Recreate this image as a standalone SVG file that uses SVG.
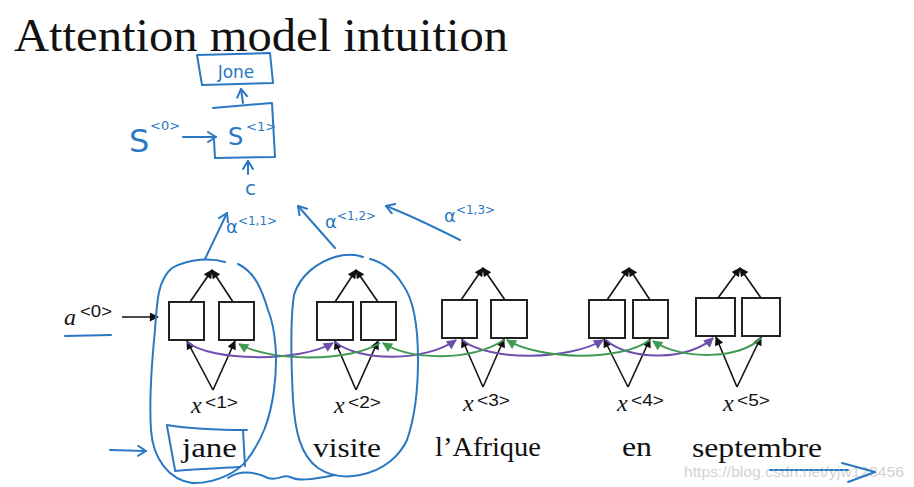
<svg xmlns="http://www.w3.org/2000/svg" width="914" height="487" viewBox="0 0 914 487">
<style>
.title{font-family:"Liberation Serif","Times New Roman",serif;font-size:47px;fill:#111}
.word{font-family:"Liberation Serif","Times New Roman",serif;font-size:27px;fill:#111}
.xl{font-family:"Liberation Serif","Times New Roman",serif;font-style:italic;font-size:24px;fill:#111}
.sup{font-family:"Liberation Sans",Arial,sans-serif;font-style:normal;font-size:17px}
.cell{fill:#fff;stroke:#222;stroke-width:2}
.blk{stroke:#111;stroke-width:1.6;fill:none}
.pur{stroke:#6f4fae;stroke-width:2;fill:none}
.grn{stroke:#3f9a52;stroke-width:2;fill:none}
.ink{stroke:#2b78c2;stroke-width:2;fill:none;stroke-linecap:round;stroke-linejoin:round}
.hw{font-family:"DejaVu Sans","Liberation Sans",sans-serif;fill:#2b78c2}
.wm{font-family:"Liberation Sans",Arial,sans-serif;font-size:15px;fill:#c8c8c8;opacity:0.8}
</style>
<defs>
<marker id="ah" viewBox="0 0 10 10" refX="9" refY="5" markerWidth="10" markerHeight="9" markerUnits="userSpaceOnUse" orient="auto"><path d="M0,0 L10,5 L0,10 z" fill="#111"/></marker>
<marker id="ap" viewBox="0 0 10 10" refX="9" refY="5" markerWidth="11" markerHeight="10" markerUnits="userSpaceOnUse" orient="auto"><path d="M0,0 L10,5 L0,10 z" fill="#6f4fae"/></marker>
<marker id="ag" viewBox="0 0 10 10" refX="9" refY="5" markerWidth="11" markerHeight="10" markerUnits="userSpaceOnUse" orient="auto"><path d="M0,0 L10,5 L0,10 z" fill="#3f9a52"/></marker>
<marker id="bh" viewBox="0 0 10 12" refX="9" refY="6" markerWidth="10" markerHeight="12" markerUnits="userSpaceOnUse" orient="auto"><path d="M1,1 L9,6 L1,11" fill="none" stroke="#2b78c2" stroke-width="2" stroke-linecap="round" stroke-linejoin="round"/></marker>
</defs>
<rect width="914" height="487" fill="#fff"/>

<text class="title" x="14" y="51" textLength="494" lengthAdjust="spacingAndGlyphs">Attention model intuition</text>

<g id="watermark"><text class="wm" x="684" y="477" textLength="220" lengthAdjust="spacingAndGlyphs">https://blog.csdn.net/yjw123456</text></g>

<g id="pair1"><rect class="cell" x="169" y="302" width="35" height="38"/><rect class="cell" x="219" y="302" width="35" height="38"/></g>
<g id="pair2"><rect class="cell" x="317" y="302" width="36" height="38"/><rect class="cell" x="361" y="302" width="35" height="38"/></g>
<g id="pair3"><rect class="cell" x="442" y="300" width="35" height="38"/><rect class="cell" x="491" y="300" width="36" height="38"/></g>
<g id="pair4"><rect class="cell" x="589" y="300" width="36" height="38"/><rect class="cell" x="633" y="300" width="35" height="38"/></g>
<g id="pair5"><rect class="cell" x="696" y="298" width="39" height="38"/><rect class="cell" x="742" y="298" width="38" height="38"/></g>

<g id="labels">
<text class="xl" x="191" y="413">x<tspan class="sup" x="205" dy="-5" textLength="33" lengthAdjust="spacingAndGlyphs">&lt;1&gt;</tspan></text>
<text class="xl" x="334" y="413">x<tspan class="sup" x="348" dy="-5" textLength="33" lengthAdjust="spacingAndGlyphs">&lt;2&gt;</tspan></text>
<text class="xl" x="463" y="411">x<tspan class="sup" x="477" dy="-5" textLength="33" lengthAdjust="spacingAndGlyphs">&lt;3&gt;</tspan></text>
<text class="xl" x="617" y="411">x<tspan class="sup" x="631" dy="-5" textLength="33" lengthAdjust="spacingAndGlyphs">&lt;4&gt;</tspan></text>
<text class="xl" x="723" y="411">x<tspan class="sup" x="737" dy="-5" textLength="33" lengthAdjust="spacingAndGlyphs">&lt;5&gt;</tspan></text>
<text class="xl" x="64" y="325">a<tspan class="sup" x="80" dy="-8" textLength="32" lengthAdjust="spacingAndGlyphs">&lt;0&gt;</tspan></text>
<text class="word" x="182" y="457" textLength="55" lengthAdjust="spacingAndGlyphs">jane</text>
<text class="word" x="313" y="457" textLength="68" lengthAdjust="spacingAndGlyphs">visite</text>
<text class="word" x="435" y="456" textLength="106" lengthAdjust="spacingAndGlyphs">l’Afrique</text>
<text class="word" x="622" y="456" textLength="30" lengthAdjust="spacingAndGlyphs">en</text>
<text class="word" x="692" y="457" textLength="130" lengthAdjust="spacingAndGlyphs">septembre</text>
</g>

<g id="connectors">
<line class="blk" x1="122" y1="317" x2="158" y2="317" marker-end="url(#ah)"/>
<g id="up">
<line class="blk" x1="190" y1="302" x2="212" y2="270" marker-end="url(#ah)"/><line class="blk" x1="233" y1="302" x2="212" y2="270" marker-end="url(#ah)"/>
<line class="blk" x1="335" y1="302" x2="356" y2="270" marker-end="url(#ah)"/><line class="blk" x1="378" y1="302" x2="356" y2="270" marker-end="url(#ah)"/>
<line class="blk" x1="461" y1="300" x2="483" y2="268" marker-end="url(#ah)"/><line class="blk" x1="505" y1="300" x2="483" y2="268" marker-end="url(#ah)"/>
<line class="blk" x1="607" y1="300" x2="629" y2="268" marker-end="url(#ah)"/><line class="blk" x1="650" y1="300" x2="629" y2="268" marker-end="url(#ah)"/>
<line class="blk" x1="718" y1="298" x2="740" y2="268" marker-end="url(#ah)"/><line class="blk" x1="761" y1="298" x2="740" y2="268" marker-end="url(#ah)"/>
</g>
<g id="inputs">
<line class="blk" x1="213" y1="390" x2="187" y2="341" marker-end="url(#ah)"/><line class="blk" x1="213" y1="390" x2="235" y2="341" marker-end="url(#ah)"/>
<line class="blk" x1="356" y1="390" x2="335" y2="341" marker-end="url(#ah)"/><line class="blk" x1="356" y1="390" x2="378" y2="341" marker-end="url(#ah)"/>
<line class="blk" x1="483" y1="387" x2="462" y2="339" marker-end="url(#ah)"/><line class="blk" x1="483" y1="387" x2="504" y2="339" marker-end="url(#ah)"/>
<line class="blk" x1="628" y1="387" x2="604" y2="339" marker-end="url(#ah)"/><line class="blk" x1="628" y1="387" x2="650" y2="339" marker-end="url(#ah)"/>
<line class="blk" x1="737" y1="387" x2="716" y2="337" marker-end="url(#ah)"/><line class="blk" x1="737" y1="387" x2="761" y2="337" marker-end="url(#ah)"/>
</g>
<g id="forward">
<path class="pur" d="M187,342 C212,362 300,362 333,343" marker-end="url(#ap)"/>
<path class="pur" d="M335,342 C360,362 425,362 456,340" marker-end="url(#ap)"/>
<path class="pur" d="M462,340 C490,362 570,360 603,340" marker-end="url(#ap)"/>
<path class="pur" d="M606,340 C630,362 690,360 713,338" marker-end="url(#ap)"/>
</g>
<g id="backward">
<path class="grn" d="M380,343 C350,362 270,362 239,344" marker-end="url(#ag)"/>
<path class="grn" d="M504,340 C470,362 410,360 383,343" marker-end="url(#ag)"/>
<path class="grn" d="M650,340 C620,362 540,360 507,340" marker-end="url(#ag)"/>
<path class="grn" d="M761,338 C740,360 680,360 653,341" marker-end="url(#ag)"/>
</g>
</g>

<g id="annotations">
<path class="ink" d="M65,336 L111,335"/>
<g id="jane-out"><path class="ink" d="M197,55 L270,53 L273,83 L202,85 Z"/><text class="hw" x="236" y="78" font-size="17" text-anchor="middle">Jone</text></g>
<g id="s1"><path class="ink" d="M213,108 L272,103 L275,157 L215,158 L214,140"/><text class="hw" x="228" y="145" font-size="24">S</text><text class="hw" x="246" y="131" font-size="13">&lt;1&gt;</text></g>
<g id="s0"><text class="hw" x="129" y="152" font-size="32">S</text><text class="hw" x="150" y="130" font-size="13">&lt;0&gt;</text></g>
<text class="hw" x="245" y="195" font-size="20">c</text>
<path class="ink" d="M183,137 L216,137" marker-end="url(#bh)"/>
<path class="ink" d="M248,174 L248,161" marker-end="url(#bh)"/>
<path class="ink" d="M243,103 L241,89" marker-end="url(#bh)"/>
<path class="ink" d="M205,259 L227,213" marker-end="url(#bh)"/>
<path class="ink" d="M335,248 L298,206" marker-end="url(#bh)"/>
<path class="ink" d="M460,240 C430,225 405,213 386,206" marker-end="url(#bh)"/>
<text class="hw" x="226" y="233" font-size="18">α<tspan font-size="12" dy="-8">&lt;1,1&gt;</tspan></text>
<text class="hw" x="325" y="228" font-size="18">α<tspan font-size="12" dy="-8">&lt;1,2&gt;</tspan></text>
<text class="hw" x="444" y="222" font-size="18">α<tspan font-size="12" dy="-8">&lt;1,3&gt;</tspan></text>
<g id="loop-jane"><path class="ink" d="M225,262 C212,258 190,258 172,268 C158,280 157,300 155,330 C152,360 149,400 151,430 C153,460 170,480 192,483 C215,484 238,472 247,460 C262,440 270,420 274,390 C278,360 276,330 268,310 C262,290 255,272 238,264"/></g>
<path class="ink" d="M228,478 C240,470 255,472 268,478 C278,481 283,474 290,477 C298,481 310,480 335,475"/>
<g id="loop-visite"><path class="ink" d="M363,257 C355,254 345,254 335,257 C318,262 300,275 294,295 C290,320 291,360 293,400 C295,430 300,455 318,468 C330,476 345,478 360,475 C385,470 400,455 407,440 C414,420 418,395 418,360 C418,330 414,300 403,285 C395,272 385,263 370,259"/></g>
<path class="ink" d="M167,425 C185,428 215,430 247,430 M243,430 L245,466 M175,471 C200,469 222,468 240,467 M167,426 L175,470"/>
<path class="ink" d="M110,450 L146,451" marker-end="url(#bh)"/>
<path class="ink" d="M770,470 L850,470" stroke-dasharray="3 2" stroke-width="1.6"/>
<path class="ink" d="M842,463 L875,472 L848,482"/>
</g>
</svg>
